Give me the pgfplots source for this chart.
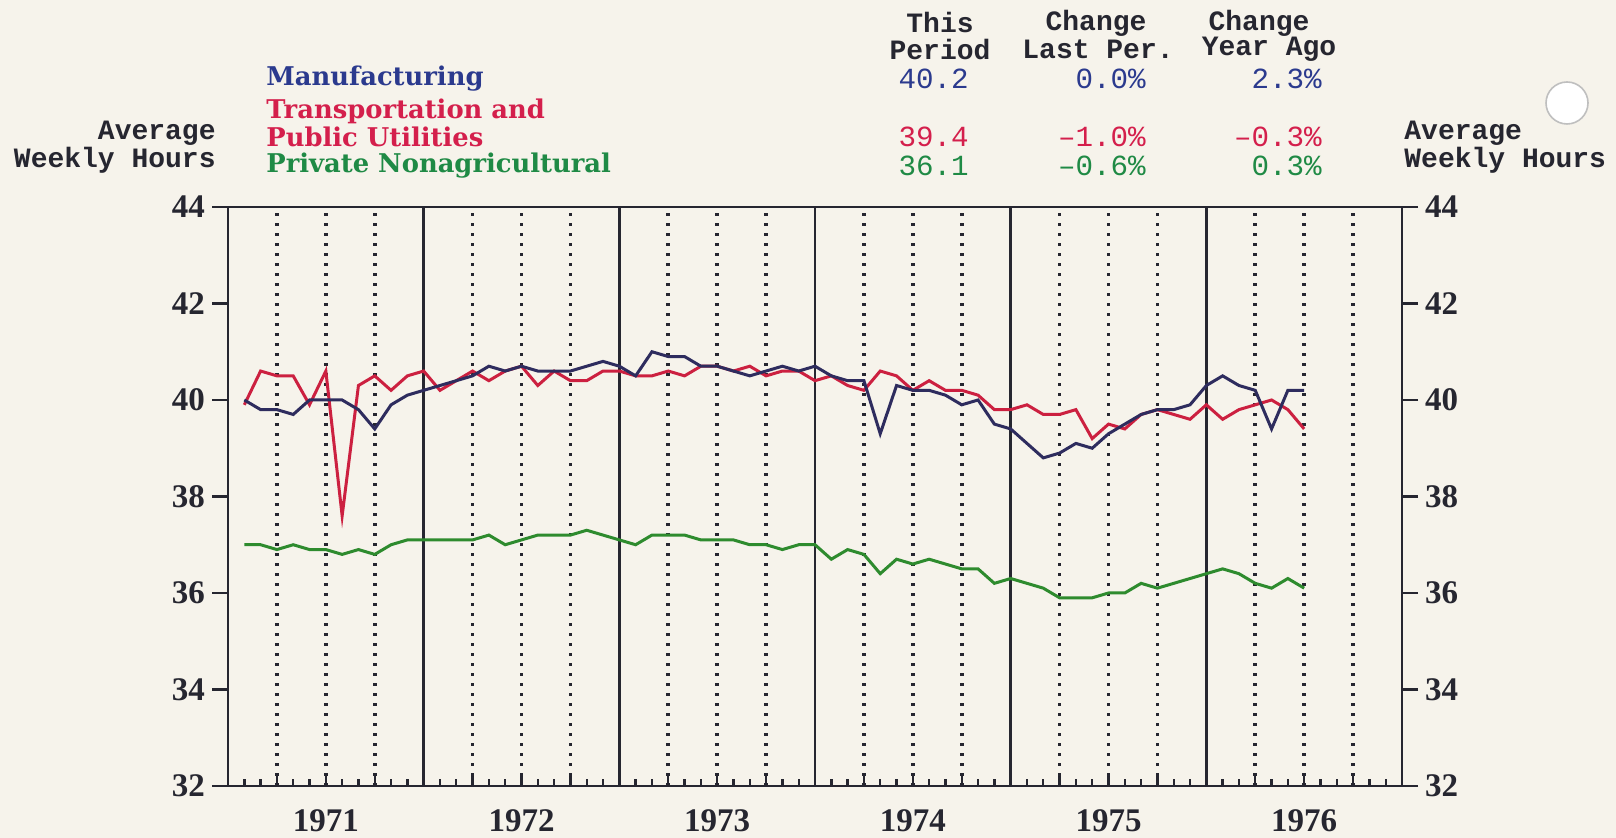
\documentclass[border=0pt]{standalone}
\usepackage{pgfplots}
\pgfplotsset{compat=1.18}
\usepackage{fontspec}
\setmainfont{DejaVu Serif}
\newfontfamily\labfont{DejaVu Serif}[BoldFont={DejaVu Serif Bold}]
\newfontfamily\tickfont{Liberation Serif}
\newfontfamily\monofont{Liberation Mono}
\definecolor{bg}{HTML}{F6F3EB}
\definecolor{ink}{HTML}{262630}
\definecolor{navyline}{HTML}{2E2C5E}
\definecolor{navytext}{HTML}{2B3A8E}
\definecolor{redline}{HTML}{CC2040}
\definecolor{redtext}{HTML}{D41F4C}
\definecolor{greenline}{HTML}{2E8B2E}
\definecolor{greentext}{HTML}{1F8A45}

\pgfplotstableread{
m manu trans priv
1 40.0 39.9 37.0
2 39.8 40.6 37.0
3 39.8 40.5 36.9
4 39.7 40.5 37.0
5 40.0 39.9 36.9
6 40.0 40.6 36.9
7 40.0 37.6 36.8
8 39.8 40.3 36.9
9 39.4 40.5 36.8
10 39.9 40.2 37.0
11 40.1 40.5 37.1
12 40.2 40.6 37.1
13 40.3 40.2 37.1
14 40.4 40.4 37.1
15 40.5 40.6 37.1
16 40.7 40.4 37.2
17 40.6 40.6 37.0
18 40.7 40.7 37.1
19 40.6 40.3 37.2
20 40.6 40.6 37.2
21 40.6 40.4 37.2
22 40.7 40.4 37.3
23 40.8 40.6 37.2
24 40.7 40.6 37.1
25 40.5 40.5 37.0
26 41.0 40.5 37.2
27 40.9 40.6 37.2
28 40.9 40.5 37.2
29 40.7 40.7 37.1
30 40.7 40.7 37.1
31 40.6 40.6 37.1
32 40.5 40.7 37.0
33 40.6 40.5 37.0
34 40.7 40.6 36.9
35 40.6 40.6 37.0
36 40.7 40.4 37.0
37 40.5 40.5 36.7
38 40.4 40.3 36.9
39 40.4 40.2 36.8
40 39.3 40.6 36.4
41 40.3 40.5 36.7
42 40.2 40.2 36.6
43 40.2 40.4 36.7
44 40.1 40.2 36.6
45 39.9 40.2 36.5
46 40.0 40.1 36.5
47 39.5 39.8 36.2
48 39.4 39.8 36.3
49 39.1 39.9 36.2
50 38.8 39.7 36.1
51 38.9 39.7 35.9
52 39.1 39.8 35.9
53 39.0 39.2 35.9
54 39.3 39.5 36.0
55 39.5 39.4 36.0
56 39.7 39.7 36.2
57 39.8 39.8 36.1
58 39.8 39.7 36.2
59 39.9 39.6 36.3
60 40.3 39.9 36.4
61 40.5 39.6 36.5
62 40.3 39.8 36.4
63 40.2 39.9 36.2
64 39.4 40.0 36.1
65 40.2 39.8 36.3
66 40.2 39.4 36.1
}\datatable

\begin{document}
\begin{tikzpicture}[x=0.5pt,y=0.5pt]
\fill[bg] (0,0) rectangle (1616,838);
\useasboundingbox (0,0) rectangle (1616,838);
% hole punch
\draw[black!25, line width=0.8pt, fill=white] (1567,735) circle (21);

\pgfplotsset{
  common/.style={
    at={(114pt,26pt)}, anchor=south west,
    width=587pt, height=289.5pt, scale only axis,
    xmin=0, xmax=72, ymin=32, ymax=44,
    ytick={32,34,...,44},
    major tick length=8pt, minor tick length=3.5pt,
    tick style={ink, line width=1.2pt},
    axis line style={ink, line width=1.4pt},
    tick label style={font=\tickfont\bfseries\fontsize{16.5}{16.5}\selectfont, text=ink},
    /pgf/number format/assume math mode=true,
  }
}

\begin{axis}[common,
  xtick={0,12,...,72},
  xticklabels={1971,1972,1973,1974,1975,1976},
  x tick label as interval,
  minor x tick num=11,
  xtick pos=left,
  ytick pos=left,
  ytick align=outside,
  xtick align=inside,
  xmajorgrids=true,
  major grid style={ink, line width=1.4pt},
  extra x ticks={3,6,9,15,18,21,27,30,33,39,42,45,51,54,57,63,66,69},
  extra x tick labels={},
  extra x tick style={grid=major, major tick length=6pt,
    major grid style={ink, line width=1.8pt, dash pattern=on 1.6pt off 3.4pt}},
  xticklabel style={yshift=-8.5pt},
]
\addplot[greenline, line width=1.5pt] table[x=m, y=priv] {\datatable};
\addplot[redline, line width=1.5pt] table[x=m, y=trans] {\datatable};
\addplot[navyline, line width=1.5pt] table[x=m, y=manu] {\datatable};
\end{axis}

\begin{axis}[common,
  axis x line=none,
  axis y line*=right,
  ytick align=outside,
  yticklabel pos=right,
]
\end{axis}

\begin{scope}[font=\monofont\bfseries\fontsize{14}{14}\selectfont, text=ink]
\node[anchor=east, inner sep=0] at (216,705) {Average};
\node[anchor=east, inner sep=0] at (216,678) {Weekly Hours};
\node[anchor=west, inner sep=0] at (1404,705) {Average};
\node[anchor=west, inner sep=0] at (1404,678) {Weekly Hours};
\node[inner sep=0] at (940,815) {This};
\node[inner sep=0] at (940,788.5) {Period};
\node[inner sep=0] at (1096,815) {Change};
\node[inner sep=0] at (1098,788.5) {Last Per.};
\node[inner sep=0] at (1259,815) {Change};
\node[inner sep=0] at (1269,788.5) {Year Ago};
\end{scope}

\begin{scope}[font=\monofont\fontsize{14.6}{14.6}\selectfont]
\node[anchor=east, inner sep=0, text=navytext] at (969,759) {40.2};
\node[anchor=east, inner sep=0, text=navytext] at (1146,759) {0.0\%};
\node[anchor=east, inner sep=0, text=navytext] at (1322,759) {2.3\%};
\node[anchor=east, inner sep=0, text=redtext] at (969,701) {39.4};
\node[anchor=east, inner sep=0, text=redtext] at (1146,701) {–1.0\%};
\node[anchor=east, inner sep=0, text=redtext] at (1322,701) {–0.3\%};
\node[anchor=east, inner sep=0, text=greentext] at (969,672) {36.1};
\node[anchor=east, inner sep=0, text=greentext] at (1146,672) {–0.6\%};
\node[anchor=east, inner sep=0, text=greentext] at (1322,672) {0.3\%};
\end{scope}

\begin{scope}[font=\labfont\bfseries\fontsize{12.9}{12.9}\selectfont]
\node[anchor=west, inner sep=0, text=navytext] at (266,759) {Manufacturing};
\node[anchor=west, inner sep=0, text=redtext] at (266,727) {Transportation and};
\node[anchor=west, inner sep=0, text=redtext] at (266,701) {Public Utilities};
\node[anchor=west, inner sep=0, text=greentext] at (266,672) {Private Nonagricultural};
\end{scope}
\end{tikzpicture}
\end{document}
